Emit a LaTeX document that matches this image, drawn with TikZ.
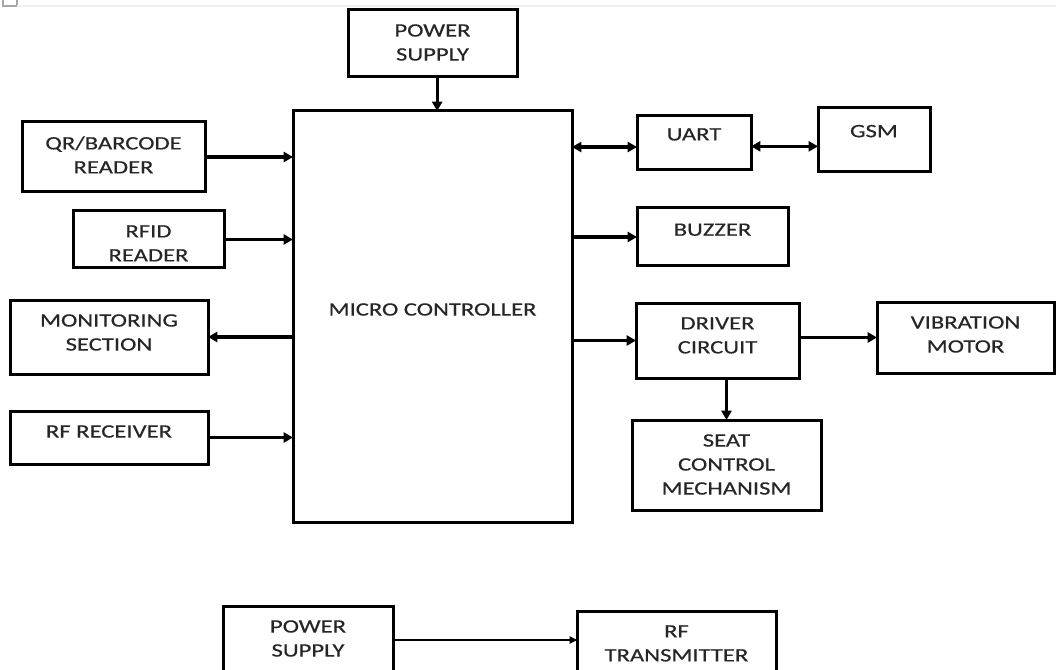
\documentclass[tikz,border=0pt]{standalone}
\usepackage{fontspec}
\setmainfont{Carlito}[FakeStretch=1.3,FakeBold=0.4]
\usetikzlibrary{arrows.meta}
\begin{document}
\begin{tikzpicture}[x=0.75pt,y=-0.75pt,
  box/.style={draw=black,line width=2.25pt,rectangle,inner sep=0pt,outer sep=0pt},
  tl/.style={anchor=north,inner sep=0pt,yshift=-10.5pt,align=center,text=black!85,
    font=\fontsize{14.2}{18}\selectfont},
  arr/.style={line width=2.4pt,-{Triangle[length=7pt,width=7.5pt]}},
  darr/.style={line width=2.4pt,{Triangle[length=7pt,width=7.5pt]}-{Triangle[length=7pt,width=7.5pt]}},
  thinarr/.style={line width=0.8pt,-{Triangle[length=5.5pt,width=5.5pt]}}]
\clip (0,0) rectangle (1056,670);
\fill[white] (0,0) rectangle (1056,670);
% small corner artifact
\draw[black!35,line width=0.8pt] (3,0) -- (3,6) -- (17,6) -- (17,0);
\draw[black!6,line width=0.8pt] (17,6) -- (1056,6);
% nodes
\node[box,minimum width=169*0.75pt,minimum height=67*0.75pt,label={[tl]north:POWER\\SUPPLY}] (ps1) at (432.5,43.5) {};
\node[box,minimum width=279*0.75pt,minimum height=411*0.75pt,label={[tl,yshift=-133.5pt]north:MICRO CONTROLLER}] (mc) at (432.5,316.5) {};
\node[box,minimum width=183*0.75pt,minimum height=70*0.75pt,label={[tl]north:QR/BARCODE\\READER}] (qr) at (113.5,157) {};
\node[box,minimum width=151*0.75pt,minimum height=57*0.75pt,label={[tl]north:RFID\\READER}] (rfid) at (148.5,239.5) {};
\node[box,minimum width=198*0.75pt,minimum height=74*0.75pt,label={[tl]north:MONITORING\\SECTION}] (mon) at (109,337) {};
\node[box,minimum width=198*0.75pt,minimum height=53*0.75pt,label={[tl]north:RF RECEIVER}] (rfr) at (109,437.5) {};
\node[box,minimum width=114*0.75pt,minimum height=54*0.75pt,label={[tl,yshift=1.5pt]north:UART}] (uart) at (694,143) {};
\node[box,minimum width=112*0.75pt,minimum height=64*0.75pt,label={[tl,yshift=-2pt]north:GSM}] (gsm) at (874,140) {};
\node[box,minimum width=151*0.75pt,minimum height=58*0.75pt,label={[tl,yshift=-1pt]north:BUZZER}] (buz) at (712.5,237) {};
\node[box,minimum width=163*0.75pt,minimum height=75*0.75pt,label={[tl]north:DRIVER\\CIRCUIT}] (drv) at (717.5,340.5) {};
\node[box,minimum width=177*0.75pt,minimum height=71*0.75pt,label={[tl]north:VIBRATION\\MOTOR}] (vib) at (965.5,337.5) {};
\node[box,minimum width=189*0.75pt,minimum height=90*0.75pt,label={[tl]north:SEAT\\CONTROL\\MECHANISM}] (seat) at (726.5,465) {};
\node[box,minimum width=170*0.75pt,minimum height=80*0.75pt,label={[tl]north:POWER\\SUPPLY}] (ps2) at (308,646) {};
\node[box,minimum width=199*0.75pt,minimum height=80*0.75pt,label={[tl]north:RF\\TRANSMITTER}] (rftx) at (676.5,651) {};
% connectors
\draw[arr] ([xshift=3.5pt]ps1.south) -- ([xshift=3.5pt]ps1.south |- mc.north);
\draw[arr] (qr.east) -- (qr.east -| mc.west);
\draw[arr] (rfid.east) -- (rfid.east -| mc.west);
\draw[arr] (mon.east -| mc.west) -- (mon.east);
\draw[arr] (rfr.east) -- (rfr.east -| mc.west);
\draw[darr] ([yshift=-3pt]uart.west -| mc.east) -- ([yshift=-3pt]uart.west);
\draw[darr] ([yshift=-2.5pt]uart.east) -- ([yshift=-2.5pt]uart.east -| gsm.west);
\draw[arr] (buz.west -| mc.east) -- (buz.west);
\draw[arr] (drv.west -| mc.east) -- (drv.west);
\draw[arr] (vib.west -| drv.east) -- (vib.west);
\draw[arr] (drv.south -| seat.north) -- (seat.north);
\draw[thinarr] ([yshift=-25.5pt]ps2.north east) -- ([yshift=-25.5pt]ps2.north east -| rftx.west);
\end{tikzpicture}
\end{document}
